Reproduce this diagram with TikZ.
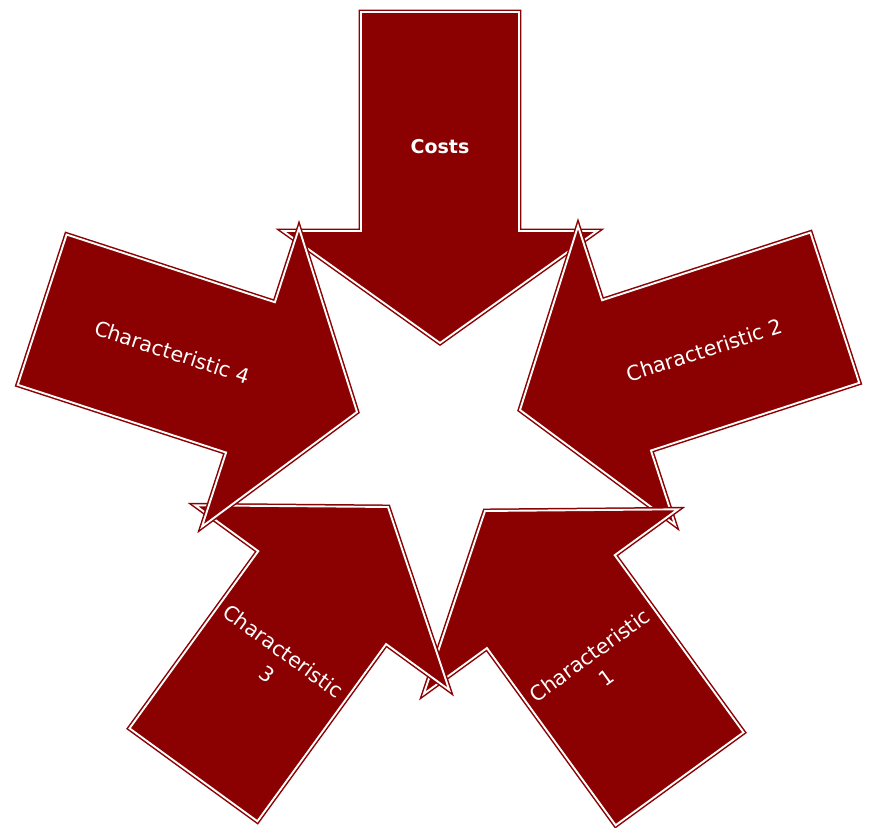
\documentclass[tikz,border=0pt]{standalone}
\usepackage{fontspec}
\setmainfont{DejaVu Sans}
\definecolor{arrred}{RGB}{139,0,0}
\begin{document}
\begin{tikzpicture}[x=1pt,y=1pt,
  bigarrow/.style={fill=arrred, draw=arrred, double=white, double distance=1.9pt, line width=1.5pt, line join=miter, miter limit=20},
  lbl/.style={text=white, font=\fontsize{20.5}{28}\selectfont, align=center, inner sep=0pt}]
\useasboundingbox (0,0) rectangle (872,827);
% Costs
\begin{scope}[shift={(440,484)}, rotate=270]
  \path[bigarrow] (0,0) -- (-112,157) -- (-112,79) -- (-331,79) -- (-331,-79) -- (-112,-79) -- (-112,-157) -- cycle;
  \node[lbl, font=\fontsize{19}{26}\selectfont\bfseries] (costs) at (-196,0) {Costs};
\end{scope}
% Characteristic 2
\begin{scope}[shift={(520,417)}, rotate=198]
  \path[bigarrow] (0,0) -- (-112,157) -- (-112,79) -- (-331,79) -- (-331,-79) -- (-112,-79) -- (-112,-157) -- cycle;
  \node[lbl, rotate=18] (c2) at (-194,0) {Characteristic 2};
\end{scope}
% Characteristic 1
\begin{scope}[shift={(485,316)}, rotate=126]
  \path[bigarrow] (0,0) -- (-112,157) -- (-112,79) -- (-331,79) -- (-331,-79) -- (-112,-79) -- (-112,-157) -- cycle;
  \node[lbl, rotate=36] (c1) at (-192,0) {Characteristic\\1};
\end{scope}
% Characteristic 3
\begin{scope}[shift={(388,320)}, rotate=54]
  \path[bigarrow] (0,0) -- (-112,157) -- (-112,79) -- (-331,79) -- (-331,-79) -- (-112,-79) -- (-112,-157) -- cycle;
  \node[lbl, rotate=-36] (c3) at (-192,0) {Characteristic\\3};
\end{scope}
% Characteristic 4
\begin{scope}[shift={(357,415)}, rotate=-18]
  \path[bigarrow] (0,0) -- (-112,157) -- (-112,79) -- (-331,79) -- (-331,-79) -- (-112,-79) -- (-112,-157) -- cycle;
  \node[lbl, rotate=-18] (c4) at (-194,0) {Characteristic 4};
\end{scope}
\end{tikzpicture}
\end{document}
